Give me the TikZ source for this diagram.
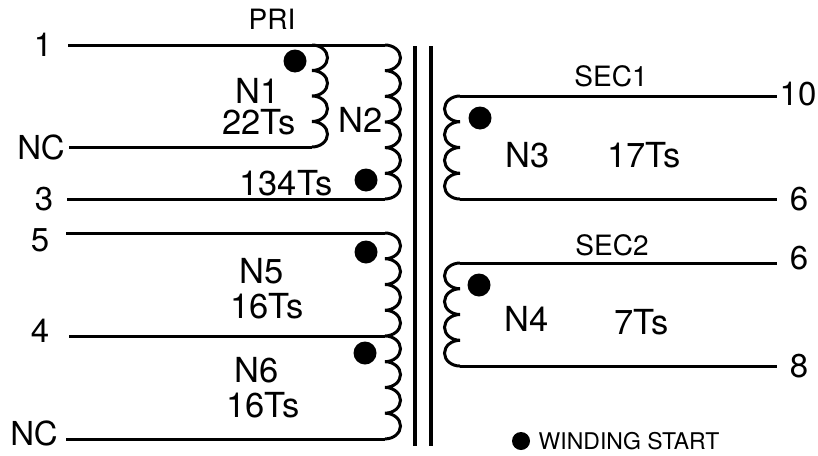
\documentclass[tikz,border=0pt]{standalone}
\usepackage{fontspec}
\setmainfont{TeX Gyre Heros}
\begin{document}
\begin{tikzpicture}[
  x=1pt, y=-1pt,
  wire/.style={line width=3pt},
  core/.style={line width=3.2pt},
  startdot/.style={circle,fill=black,minimum size=23pt,inner sep=0pt},
  pinlabel/.style={inner sep=0pt,font=\fontsize{33}{33}\selectfont},
  turnlabel/.style={inner sep=0pt,font=\fontsize{34.5}{34.5}\selectfont},
  headlabel/.style={inner sep=0pt,font=\fontsize{28}{28}\selectfont}
  ]
  % #1 start, #2 bumps, #3 half height, #4 end angle
  \newcommand{\coil}[4]{
    \draw[wire] (#1) foreach \i in {1,...,#2} {
      arc[start angle=90,end angle=#4,x radius=15.5pt,y radius=#3]
    };
  }
  \useasboundingbox (0,0) rectangle (818,455);

  % core
  \coordinate (coreAtop) at (415,46);
  \coordinate (coreAbot) at (415,446);
  \coordinate (coreBtop) at (431,46);
  \coordinate (coreBbot) at (431,446);
  \draw[core] (coreAtop) -- (coreAbot);
  \draw[core] (coreBtop) -- (coreBbot);

  % primary
  \coordinate (pin1) at (68,45);
  \coordinate (pinNCa) at (69,147);
  \coordinate (pin3) at (67,199);
  \coordinate (n1top) at (312,45);
  \coordinate (n1bot) at (312,147);
  \coordinate (n2top) at (385,45);
  \coordinate (n2bot) at (385,199);
  \draw[wire] (pin1) -- (n2top);
  \draw[wire] (pinNCa) -- (n1bot);
  \draw[wire] (pin3) -- (n2bot);
  \coil{n1top}{4}{12.75pt}{-90}
  \coil{n2top}{6}{12.83pt}{-90}

  % lower primary
  \coordinate (pin5) at (66,233);
  \coordinate (pin4) at (69,336);
  \coordinate (pinNCb) at (66,439);
  \coordinate (n5top) at (385,233);
  \coordinate (n5bot) at (385,336);
  \coordinate (n6bot) at (385,439);
  \draw[wire] (pin5) -- (n5top);
  \draw[wire] (pin4) -- (n5bot);
  \draw[wire] (pinNCb) -- (n6bot);
  \coil{n5top}{8}{12.87pt}{-90}

  % secondaries
  \coordinate (pin10) at (777,96);
  \coordinate (pin6a) at (777,199);
  \coordinate (pin6b) at (777,263);
  \coordinate (pin8) at (777,366);
  \coordinate (n3top) at (460,96);
  \coordinate (n3bot) at (460,199);
  \coordinate (n4top) at (460,263);
  \coordinate (n4bot) at (460,366);
  \draw[wire] (n3top) -- (pin10);
  \draw[wire] (n3bot) -- (pin6a);
  \draw[wire] (n4top) -- (pin6b);
  \draw[wire] (n4bot) -- (pin8);
  \coil{n3top}{4}{12.88pt}{270}
  \coil{n4top}{4}{12.88pt}{270}

  % winding starts
  \node[startdot] (dotN1) at (295,61) {};
  \node[startdot] (dotN2) at (366,180) {};
  \node[startdot] (dotN5) at (366,252) {};
  \node[startdot] (dotN6) at (365,353) {};
  \node[startdot] (dotN3) at (480,118) {};
  \node[startdot] (dotN4) at (479,285) {};
  \node[startdot,minimum size=18pt] (dotkey) at (521,441) {};
  \node[inner sep=0pt,font=\fontsize{23}{23}\selectfont] (keytext) at (629,441) {WINDING START};

  % pins
  \node[pinlabel] (lab1) at (43,45) {1};
  \node[pinlabel] (labNCa) at (41,147) {NC};
  \node[pinlabel] (lab3) at (44,199) {3};
  \node[pinlabel] (lab5) at (40,240) {5};
  \node[pinlabel] (lab4) at (40,331) {4};
  \node[pinlabel] (labNCb) at (34,433) {NC};
  \node[pinlabel] (lab10) at (798,94) {10};
  \node[pinlabel] (lab6a) at (799,199) {6};
  \node[pinlabel] (lab6b) at (799,258) {6};
  \node[pinlabel] (lab8) at (799,366) {8};

  % windings
  \node[headlabel] (pri) at (272,19) {PRI};
  \node[headlabel] (sec1) at (611,76) {SEC1};
  \node[headlabel] (sec2) at (612,245) {SEC2};
  \node[turnlabel] (n1) at (258,91) {N1};
  \node[turnlabel] (n1ts) at (259,122) {22Ts};
  \node[turnlabel] (n2) at (361,120) {N2};
  \node[turnlabel] (n2ts) at (286,183) {134Ts};
  \node[turnlabel] (n5) at (262,271) {N5};
  \node[turnlabel] (n5ts) at (267,306) {16Ts};
  \node[turnlabel] (n6) at (257,370) {N6};
  \node[turnlabel] (n6ts) at (263,405) {16Ts};
  \node[turnlabel] (n3) at (528,155) {N3};
  \node[turnlabel] (n3ts) at (644,155) {17Ts};
  \node[turnlabel] (n4) at (527,319) {N4};
  \node[turnlabel] (n4ts) at (642,322) {7Ts};
\end{tikzpicture}
\end{document}
